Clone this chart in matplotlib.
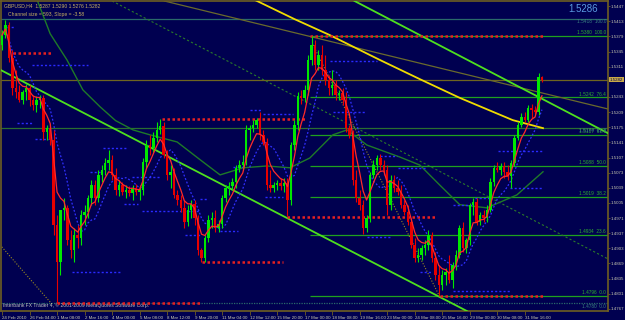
import numpy as np
import pandas as pd
import matplotlib
matplotlib.use("Agg")
import matplotlib.pyplot as plt
import matplotlib.transforms as mtrans

plt.rcParams["font.family"] = ["Liberation Sans", "DejaVu Sans"]

# GBPUSD H4 bars (24 Feb - 1 Apr 2010)
opens = [1.5360, 1.5382, 1.5405, 1.5331, 1.5263, 1.5254, 1.5236, 1.5254, 1.5263, 1.5236,
         1.5225, 1.5236, 1.5241, 1.5165, 1.5174, 1.5147, 1.4956, 1.4873, 1.4989, 1.4994,
         1.4922, 1.4899, 1.4933, 1.4926, 1.4978, 1.4985, 1.5016, 1.5046, 1.5016, 1.5068,
         1.5079, 1.5095, 1.5102, 1.5068, 1.5034, 1.5046, 1.5030, 1.5034, 1.5028, 1.5039,
         1.5030, 1.5034, 1.5097, 1.5135, 1.5129, 1.5151, 1.5169, 1.5178, 1.5113, 1.5068,
         1.5075, 1.5023, 1.5012, 1.4994, 1.4962, 1.4989, 1.5003, 1.4971, 1.4899, 1.4882,
         1.4926, 1.4967, 1.4971, 1.4949, 1.4958, 1.5016, 1.5039, 1.5043, 1.5052, 1.5084,
         1.5090, 1.5097, 1.5169, 1.5174, 1.5180, 1.5191, 1.5158, 1.5142, 1.5046, 1.5039,
         1.5046, 1.5050, 1.5043, 1.5050, 1.5012, 1.5135, 1.5180, 1.5245, 1.5241, 1.5259,
         1.5326, 1.5360, 1.5315, 1.5337, 1.5304, 1.5281, 1.5263, 1.5270, 1.5248, 1.5252,
         1.5236, 1.5174, 1.5158, 1.5057, 1.5016, 1.5001, 1.4949, 1.4971, 1.5068, 1.5090,
         1.5106, 1.5090, 1.5079, 1.5001, 1.5057, 1.5039, 1.5030, 1.5001, 1.4985, 1.4962,
         1.4911, 1.4882, 1.4888, 1.4904, 1.4911, 1.4933, 1.4882, 1.4843, 1.4821, 1.4843,
         1.4850, 1.4832, 1.4866, 1.4888, 1.4949, 1.4904, 1.4922, 1.5001, 1.5007, 1.4962,
         1.4978, 1.4971, 1.4989, 1.5052, 1.5084, 1.5079, 1.5088, 1.5075, 1.5066, 1.5095,
         1.5151, 1.5180, 1.5198, 1.5191, 1.5218, 1.5214, 1.5209, 1.5287]
highs = [1.5394, 1.5416, 1.5412, 1.5349, 1.5304, 1.5270, 1.5259, 1.5272, 1.5270, 1.5248,
         1.5245, 1.5248, 1.5248, 1.5180, 1.5182, 1.5169, 1.4978, 1.4888, 1.5016, 1.5001,
         1.4944, 1.4949, 1.4956, 1.4989, 1.5001, 1.5023, 1.5057, 1.5057, 1.5079, 1.5090,
         1.5106, 1.5124, 1.5113, 1.5084, 1.5057, 1.5052, 1.5046, 1.5043, 1.5046, 1.5048,
         1.5046, 1.5106, 1.5147, 1.5158, 1.5165, 1.5187, 1.5194, 1.5187, 1.5124, 1.5090,
         1.5084, 1.5034, 1.5023, 1.5012, 1.5001, 1.5012, 1.5012, 1.4978, 1.4904, 1.4933,
         1.4978, 1.4985, 1.4989, 1.4967, 1.5023, 1.5046, 1.5052, 1.5061, 1.5090, 1.5102,
         1.5113, 1.5180, 1.5180, 1.5191, 1.5196, 1.5209, 1.5169, 1.5151, 1.5079, 1.5052,
         1.5057, 1.5061, 1.5061, 1.5061, 1.5142, 1.5191, 1.5254, 1.5259, 1.5270, 1.5337,
         1.5380, 1.5371, 1.5349, 1.5360, 1.5337, 1.5293, 1.5304, 1.5281, 1.5259, 1.5263,
         1.5254, 1.5180, 1.5169, 1.5079, 1.5034, 1.5012, 1.4978, 1.5075, 1.5102, 1.5113,
         1.5115, 1.5102, 1.5090, 1.5068, 1.5068, 1.5057, 1.5046, 1.5012, 1.5001, 1.4971,
         1.4926, 1.4904, 1.4911, 1.4922, 1.4944, 1.4940, 1.4895, 1.4866, 1.4855, 1.4859,
         1.4888, 1.4873, 1.4899, 1.4956, 1.4962, 1.4926, 1.5005, 1.5016, 1.5016, 1.4985,
         1.4989, 1.5001, 1.5061, 1.5090, 1.5097, 1.5095, 1.5097, 1.5090, 1.5102, 1.5158,
         1.5187, 1.5207, 1.5209, 1.5225, 1.5227, 1.5223, 1.5297, 1.5290]
lows = [1.5349, 1.5376, 1.5322, 1.5248, 1.5241, 1.5232, 1.5227, 1.5236, 1.5223, 1.5214,
        1.5209, 1.5218, 1.5147, 1.5147, 1.5135, 1.4933, 1.4780, 1.4843, 1.4967, 1.4911,
        1.4882, 1.4873, 1.4904, 1.4911, 1.4956, 1.4971, 1.5001, 1.5001, 1.5007, 1.5052,
        1.5068, 1.5079, 1.5057, 1.5023, 1.5021, 1.5023, 1.5016, 1.5021, 1.5012, 1.5023,
        1.5012, 1.5023, 1.5084, 1.5113, 1.5120, 1.5142, 1.5160, 1.5106, 1.5057, 1.5039,
        1.5016, 1.5001, 1.4985, 1.4949, 1.4953, 1.4971, 1.4956, 1.4888, 1.4873, 1.4873,
        1.4917, 1.4949, 1.4940, 1.4940, 1.4949, 1.5007, 1.5023, 1.5034, 1.5039, 1.5075,
        1.5079, 1.5090, 1.5147, 1.5165, 1.5174, 1.5147, 1.5135, 1.5034, 1.5030, 1.5030,
        1.5034, 1.5034, 1.5030, 1.4976, 1.5001, 1.5124, 1.5169, 1.5227, 1.5232, 1.5248,
        1.5315, 1.5304, 1.5304, 1.5293, 1.5270, 1.5248, 1.5248, 1.5236, 1.5236, 1.5225,
        1.5165, 1.5151, 1.5046, 1.5007, 1.4989, 1.4935, 1.4940, 1.4962, 1.5061, 1.5079,
        1.5079, 1.5068, 1.4978, 1.4989, 1.5030, 1.5023, 1.4994, 1.4978, 1.4956, 1.4904,
        1.4873, 1.4873, 1.4877, 1.4888, 1.4899, 1.4873, 1.4832, 1.4796, 1.4810, 1.4821,
        1.4825, 1.4814, 1.4855, 1.4882, 1.4895, 1.4893, 1.4911, 1.4978, 1.4956, 1.4956,
        1.4962, 1.4962, 1.4985, 1.5043, 1.5075, 1.5068, 1.5061, 1.5057, 1.5039, 1.5088,
        1.5147, 1.5176, 1.5187, 1.5187, 1.5196, 1.5205, 1.5203, 1.5276]
closes = [1.5382, 1.5405, 1.5331, 1.5263, 1.5254, 1.5236, 1.5254, 1.5263, 1.5236, 1.5225,
          1.5236, 1.5241, 1.5165, 1.5174, 1.5147, 1.4956, 1.4873, 1.4989, 1.4994, 1.4922,
          1.4899, 1.4933, 1.4926, 1.4978, 1.4985, 1.5016, 1.5046, 1.5016, 1.5068, 1.5079,
          1.5095, 1.5102, 1.5068, 1.5034, 1.5046, 1.5030, 1.5034, 1.5028, 1.5039, 1.5030,
          1.5034, 1.5097, 1.5135, 1.5129, 1.5151, 1.5169, 1.5178, 1.5113, 1.5068, 1.5075,
          1.5023, 1.5012, 1.4994, 1.4962, 1.4989, 1.5003, 1.4971, 1.4899, 1.4882, 1.4926,
          1.4967, 1.4971, 1.4949, 1.4958, 1.5016, 1.5039, 1.5043, 1.5052, 1.5084, 1.5090,
          1.5097, 1.5169, 1.5174, 1.5180, 1.5191, 1.5158, 1.5142, 1.5046, 1.5039, 1.5046,
          1.5050, 1.5043, 1.5050, 1.5012, 1.5135, 1.5180, 1.5245, 1.5241, 1.5259, 1.5326,
          1.5360, 1.5315, 1.5337, 1.5304, 1.5281, 1.5263, 1.5270, 1.5248, 1.5252, 1.5236,
          1.5174, 1.5158, 1.5057, 1.5016, 1.5001, 1.4949, 1.4971, 1.5068, 1.5090, 1.5106,
          1.5090, 1.5079, 1.5001, 1.5057, 1.5039, 1.5030, 1.5001, 1.4985, 1.4962, 1.4911,
          1.4882, 1.4888, 1.4904, 1.4911, 1.4933, 1.4882, 1.4843, 1.4821, 1.4843, 1.4850,
          1.4832, 1.4866, 1.4888, 1.4949, 1.4904, 1.4922, 1.5001, 1.5007, 1.4962, 1.4978,
          1.4971, 1.4989, 1.5052, 1.5084, 1.5079, 1.5088, 1.5075, 1.5066, 1.5095, 1.5151,
          1.5180, 1.5198, 1.5191, 1.5218, 1.5214, 1.5209, 1.5287, 1.5282]

time_labels = ["24 Feb 2010", "26 Feb 04:00", "1 Mar 08:00", "2 Mar 16:00", "4 Mar 00:00",
               "5 Mar 08:00", "8 Mar 12:00", "9 Mar 20:00", "11 Mar 04:00", "12 Mar 12:00",
               "15 Mar 20:00", "17 Mar 00:00", "18 Mar 08:00", "19 Mar 16:00", "23 Mar 00:00",
               "24 Mar 08:00", "25 Mar 16:00", "29 Mar 00:00", "30 Mar 08:00", "31 Mar 16:00"]
price_ticks = [1.4767, 1.4801, 1.4835, 1.4869, 1.4903, 1.4937, 1.4971, 1.5005, 1.5039, 1.5073,
               1.5107, 1.5141, 1.5175, 1.5209, 1.5243, 1.5311, 1.5345, 1.5379, 1.5413,
               1.5447]

# fibo levels (from the 17 Mar high to the 25 Mar low)
fib_prices = [1.5380, 1.5242, 1.5157, 1.5088, 1.5019, 1.4934, 1.4796]
fib_names = ["100.0", "76.4", "61.8", "50.0", "38.2", "23.6", "0.0"]
fib_start = 89.5
# second fibo (1 Mar low to the top)
fib2_prices = [1.5418, 1.5174, 1.4780]
fib2_names = ["100.0", "61.8", "0.0"]

# slow moving averages, read as points (bar, price)
ma_green_x = [10.2, 14.0, 18.9, 23.5, 28.5, 33.0, 38.1, 43.0, 50.9, 57.6, 63.4, 70.1, 77.0,
              83.7, 89.5, 96.2, 100.3, 106.1, 115.7, 121.5, 127.3, 133.1, 141.0, 149.7, 157.3]
ma_green_y = [1.5461, 1.5385, 1.5326, 1.5259, 1.5221, 1.5190, 1.5169, 1.5158, 1.5142, 1.5102,
              1.5068, 1.5084, 1.5088, 1.5084, 1.5106, 1.5158, 1.5169, 1.5135, 1.5108, 1.5090,
              1.5045, 1.5001, 1.4994, 1.5023, 1.5075]
ma_yellow_x = [73.5, 85.0, 95.3, 109.9, 121.5, 133.1, 148.5, 157.3]
ma_yellow_y = [1.5461, 1.5418, 1.5382, 1.5326, 1.5283, 1.5241, 1.5191, 1.5173]

# support / resistance marks
red_x0 = [3.2, 46.5, 89.5, 82.8, 58.1, 16.0, 127.3]
red_x1 = [14.8, 88.7, 157.8, 126.5, 81.7, 57.6, 157.8]
red_p = [1.5342, 1.5194, 1.5380, 1.4974, 1.4873, 1.4780, 1.4796]

blue_x0 = [1.5, 8.7, 4.4, 9.6, 29.4, 25.6, 37.8, 35.5, 40.7, 53.2, 20.3, 95.3, 72.1, 75.9,
           96.2, 67.2, 76.5, 57.6, 63.4, 106.1, 109.9, 115.1, 144.2, 147.7, 137.5, 131.1,
           121.5, 131.1]
blue_x1 = [3.8, 25.0, 9.0, 13.4, 36.6, 28.5, 45.9, 39.5, 57.6, 57.6, 34.9, 109.0, 75.6, 84.6,
           105.5, 70.6, 81.7, 59.6, 68.6, 112.8, 114.8, 123.5, 157.3, 157.3, 142.4, 136.9,
           125.0, 147.7]
blue_p = [1.5400, 1.5315, 1.5185, 1.5149, 1.5129, 1.5075, 1.5063, 1.5003, 1.4987, 1.4933,
          1.4850, 1.5324, 1.5214, 1.5205, 1.5209, 1.5086, 1.5019, 1.5014, 1.4942, 1.4929,
          1.5111, 1.5084, 1.5122, 1.5039, 1.5016, 1.5001, 1.4850, 1.4807]

BG = "#000050"
FRAME = "#6e5e22"
TXT = "#c8c8b0"
UP = "#00e800"
DOWN = "#e80000"

fig = plt.figure(figsize=(6.25, 3.2), dpi=100, facecolor=BG)
ax = fig.add_axes([1 / 625, 9 / 320, 607 / 625, 310 / 320], facecolor=BG)
ax.set_xlim(-0.3, 176.2)
ax.set_ylim(1.47623, 1.545855)

o = np.array(opens)
h = np.array(highs)
l = np.array(lows)
c = np.array(closes)
idx = np.arange(len(c))

# full width lines
ax.axhline(fib2_prices[0], color="#2a6a6a", lw=0.9, zorder=1)
ax.axhline(fib2_prices[1], color="#2a6e30", lw=0.9, zorder=1)
ax.axhline(fib2_prices[2], color="#2a6a6a", lw=0.9, ls=(0, (1, 1)), zorder=1)
ax.axhline(closes[-1], color="#6e6420", lw=0.9, zorder=1)

# fibo lines
ax.hlines(fib_prices, fib_start, 176.2, colors="#1fa01f", lw=0.9, zorder=1)
for p, n in zip(fib_prices, fib_names):
    ax.text(175.6, p + 0.0002, "%.4f  %s" % (p, n), ha="right", va="bottom",
            fontsize=3.4, color="#2fb02f", zorder=6)
for p, n in zip(fib2_prices, fib2_names):
    ax.text(175.6, p - 0.0001, "%.4f  %s" % (p, n), ha="right", va="top",
            fontsize=3.4, color="#3a8080", zorder=6)

# trend channel
ax.axline((0, 1.5302), (117.7, 1.4832), color="#4ee01e", lw=1.3, zorder=3)
ax.axline((121.5, 1.5382), (168.9, 1.5191), color="#4ee01e", lw=1.3, zorder=3)
ax.axline((31.4, 1.5461), (121.5, 1.5099), color="#2a7a2a", lw=0.8, ls=(0, (2, 2)), zorder=2)
ax.axline((45.9, 1.5461), (176.2, 1.5216), color="#6a6a2c", lw=0.9, zorder=2)
ax.plot([90.4, 127.3], [1.5360, 1.4794], color="#9a8a20", lw=0.8, ls=(0, (1, 1.5)), zorder=2)
ax.plot([-0.6, 14.5], [1.4911, 1.4778], color="#9a8a20", lw=0.8, ls=(0, (1, 1.5)), zorder=2)

# support/resistance dots
ax.hlines(red_p, red_x0, red_x1, colors="#e82020", lw=1.8, linestyles=[(0, (1, 1))], zorder=4)
ax.hlines(blue_p, blue_x0, blue_x1, colors="#2a2aff", lw=1.0, linestyles=[(0, (1.5, 1.5))], zorder=4)

# moving averages
ax.plot(ma_green_x, ma_green_y, color="#1e7a28", lw=1.0, zorder=2)
ax.plot(ma_yellow_x, ma_yellow_y, color="#f0dc00", lw=1.3, zorder=3)

# candles
cols = np.where(c >= o, UP, DOWN)
ax.vlines(idx, l, h, colors=cols, lw=0.8, zorder=5)
ax.bar(idx, np.maximum(np.abs(c - o), 0.00012), bottom=np.minimum(o, c), width=0.72,
       color=cols, lw=0, zorder=5)

fast = pd.Series(c).ewm(span=5).mean()
slow = pd.Series(c).rolling(9, min_periods=1).mean()
ax.plot(idx, fast, color="#ff2a2a", lw=0.9, zorder=6)
ax.plot(idx, slow, color="#3030ff", lw=0.9, ls=(0, (1.5, 1.5)), zorder=4)

# axes styling
for s in ax.spines.values():
    s.set_color(FRAME)
    s.set_linewidth(1.2)
ax.yaxis.tick_right()
ax.set_yticks(price_ticks)
ax.set_yticklabels(["%.4f" % p for p in price_ticks])
ax.tick_params(axis="y", colors=FRAME, labelcolor=TXT, labelsize=3.2, length=1.5, width=0.6, pad=0.5)
ax.set_xticks(np.arange(len(time_labels)) * 8)
ax.set_xticklabels(time_labels)
for t in ax.get_xticklabels():
    t.set_ha("left")
ax.tick_params(axis="x", colors=FRAME, labelcolor=TXT, labelsize=3.2, length=3, width=0.6, pad=0.5)

# current price box
tr = mtrans.blended_transform_factory(ax.transAxes, ax.transData)
ax.text(1.003, closes[-1], "%.4f" % closes[-1], transform=tr, ha="left", va="center",
        fontsize=3.2, color=BG, zorder=10, clip_on=False,
        bbox=dict(boxstyle="square,pad=0.15", fc="#c8a848", ec="none"))

ax.text(0.005, 0.993, "GBPUSD,H4  1.5287 1.5290 1.5276 1.5282", transform=ax.transAxes,
        ha="left", va="top", fontsize=3.6, color="#c8b060")
ax.text(0.012, 0.965, "Channel size = 593, Slope = -3.58", transform=ax.transAxes,
        ha="left", va="top", fontsize=3.6, color="#c8b060")
ax.text(0.983, 0.975, "1.5286", transform=ax.transAxes, ha="right", va="center",
        fontsize=7.0, color="#5a9ae0")
ax.text(0.004, 0.02, "Interbank FX Trader 4, \u00a9 2001-2009 MetaQuotes Software Corp.",
        transform=ax.transAxes, ha="left", va="center", fontsize=3.6, color="#c0c0c0")

fig.savefig("out.png", dpi=100, facecolor=BG)
